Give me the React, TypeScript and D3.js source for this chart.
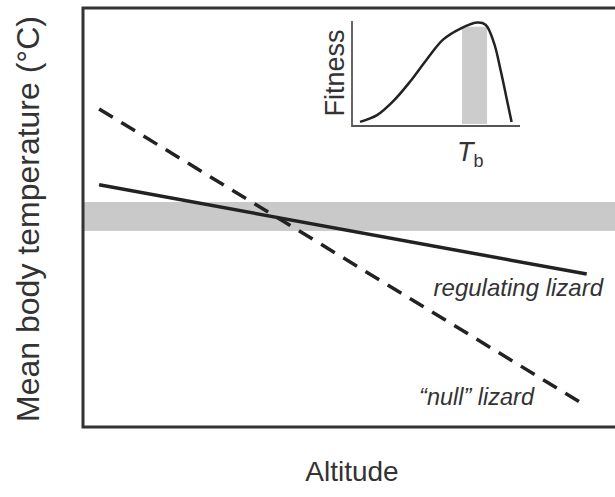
import { useEffect, useRef } from "react";
import * as d3 from "d3";

// main panel: two lines over altitude (arbitrary units 0-100)
const nullLizard = [
  { alt: 3, temp: 75.9 },
  { alt: 93.1, temp: 5.5 },
];
const regulatingLizard = [
  { alt: 3, temp: 57.8 },
  { alt: 93.8, temp: 36.5 },
];
// preferred temperature band
const prefBand = [46.8, 53.7];

// inset: fitness vs body temperature
const fitnessCurve = [
  { tb: 4.8, fit: 0.02 },
  { tb: 14.9, fit: 0.085 },
  { tb: 24.4, fit: 0.217 },
  { tb: 34.5, fit: 0.406 },
  { tb: 44.6, fit: 0.623 },
  { tb: 54.2, fit: 0.811 },
  { tb: 64.3, fit: 0.915 },
  { tb: 74.4, fit: 0.975 },
  { tb: 79.5, fit: 0.955 },
  { tb: 84.5, fit: 0.78 },
  { tb: 88.7, fit: 0.5 },
  { tb: 92.9, fit: 0.18 },
  { tb: 95, fit: 0.02 },
];
const insetBand = { tb: [65.5, 80.4], fit: 0.935 };

const W = 615;
const H = 497;

const App = () => {
  const svgRef = useRef<SVGSVGElement>(null);

  useEffect(() => {
    if (!svgRef.current) return;
    const svg = d3.select(svgRef.current);
    svg.selectAll("*").remove();

    const font = "'Liberation Sans', Arial, sans-serif";
    const ink = "#222";

    const x = d3.scaleLinear().domain([0, 100]).range([83, 620]);
    const y = d3.scaleLinear().domain([0, 100]).range([427, 8]);

    // grey band
    svg
      .append("rect")
      .attr("x", x(0))
      .attr("y", y(prefBand[1]))
      .attr("width", x(100) - x(0))
      .attr("height", y(prefBand[0]) - y(prefBand[1]))
      .attr("fill", "#c9c9c9");

    // frame
    svg
      .append("rect")
      .attr("x", x(0))
      .attr("y", y(100))
      .attr("width", x(100) - x(0))
      .attr("height", y(0) - y(100))
      .attr("fill", "none")
      .attr("stroke", "#333")
      .attr("stroke-width", 3);

    const line = d3
      .line<{ alt: number; temp: number }>()
      .x((d) => x(d.alt))
      .y((d) => y(d.temp));

    svg
      .append("path")
      .attr("d", line(nullLizard))
      .attr("fill", "none")
      .attr("stroke", ink)
      .attr("stroke-width", 3.5)
      .attr("stroke-dasharray", "16,10");

    svg
      .append("path")
      .attr("d", line(regulatingLizard))
      .attr("fill", "none")
      .attr("stroke", ink)
      .attr("stroke-width", 3.5);

    svg
      .append("text")
      .attr("x", 603)
      .attr("y", 296)
      .attr("text-anchor", "end")
      .attr("font-family", font)
      .attr("font-style", "italic")
      .attr("font-size", 24)
      .attr("fill", "#333")
      .text("regulating lizard");

    svg
      .append("text")
      .attr("x", 534)
      .attr("y", 405)
      .attr("text-anchor", "end")
      .attr("font-family", font)
      .attr("font-style", "italic")
      .attr("font-size", 23.5)
      .attr("fill", "#333")
      .text("\u201Cnull\u201D lizard");

    // axis labels
    svg
      .append("text")
      .attr("x", 352)
      .attr("y", 481)
      .attr("text-anchor", "middle")
      .attr("font-family", font)
      .attr("font-size", 28)
      .attr("fill", "#333")
      .text("Altitude");

    svg
      .append("text")
      .attr("transform", "translate(39,219) rotate(-90)")
      .attr("text-anchor", "middle")
      .attr("font-family", font)
      .attr("font-size", 32)
      .attr("fill", "#333")
      .text("Mean body temperature (\u00B0C)");

    // inset
    const xi = d3.scaleLinear().domain([0, 100]).range([352, 520]);
    const yi = d3.scaleLinear().domain([0, 1]).range([124, 20]);

    svg
      .append("rect")
      .attr("x", xi(insetBand.tb[0]))
      .attr("y", yi(insetBand.fit))
      .attr("width", xi(insetBand.tb[1]) - xi(insetBand.tb[0]))
      .attr("height", yi(0) - yi(insetBand.fit))
      .attr("fill", "#cccccc");

    svg
      .append("path")
      .attr("d", `M${xi(0)},${yi(0.98) - 1}V${126}H${xi(100)}`)
      .attr("fill", "none")
      .attr("stroke", "#555")
      .attr("stroke-width", 1.8);

    const fitLine = d3
      .line<{ tb: number; fit: number }>()
      .x((d) => xi(d.tb))
      .y((d) => yi(d.fit))
      .curve(d3.curveCatmullRom.alpha(0.5));

    svg
      .append("path")
      .attr("d", fitLine(fitnessCurve))
      .attr("fill", "none")
      .attr("stroke", ink)
      .attr("stroke-width", 2.5);

    svg
      .append("text")
      .attr("transform", "translate(344,73) rotate(-90)")
      .attr("text-anchor", "middle")
      .attr("font-family", font)
      .attr("font-size", 27)
      .attr("fill", "#333")
      .text("Fitness");

    const tb = svg
      .append("text")
      .attr("x", 457)
      .attr("y", 161)
      .attr("font-family", font)
      .attr("font-size", 27)
      .attr("fill", "#333");
    tb.append("tspan").attr("font-style", "italic").text("T");
    tb.append("tspan").attr("font-size", 18).attr("dy", 6).text("b");
  }, []);

  return (
    <div style={{ position: "absolute", left: 0, top: 0 }}>
      <svg ref={svgRef} width={W} height={H} style={{ display: "block", background: "#fff" }} />
    </div>
  );
};

export default App;
